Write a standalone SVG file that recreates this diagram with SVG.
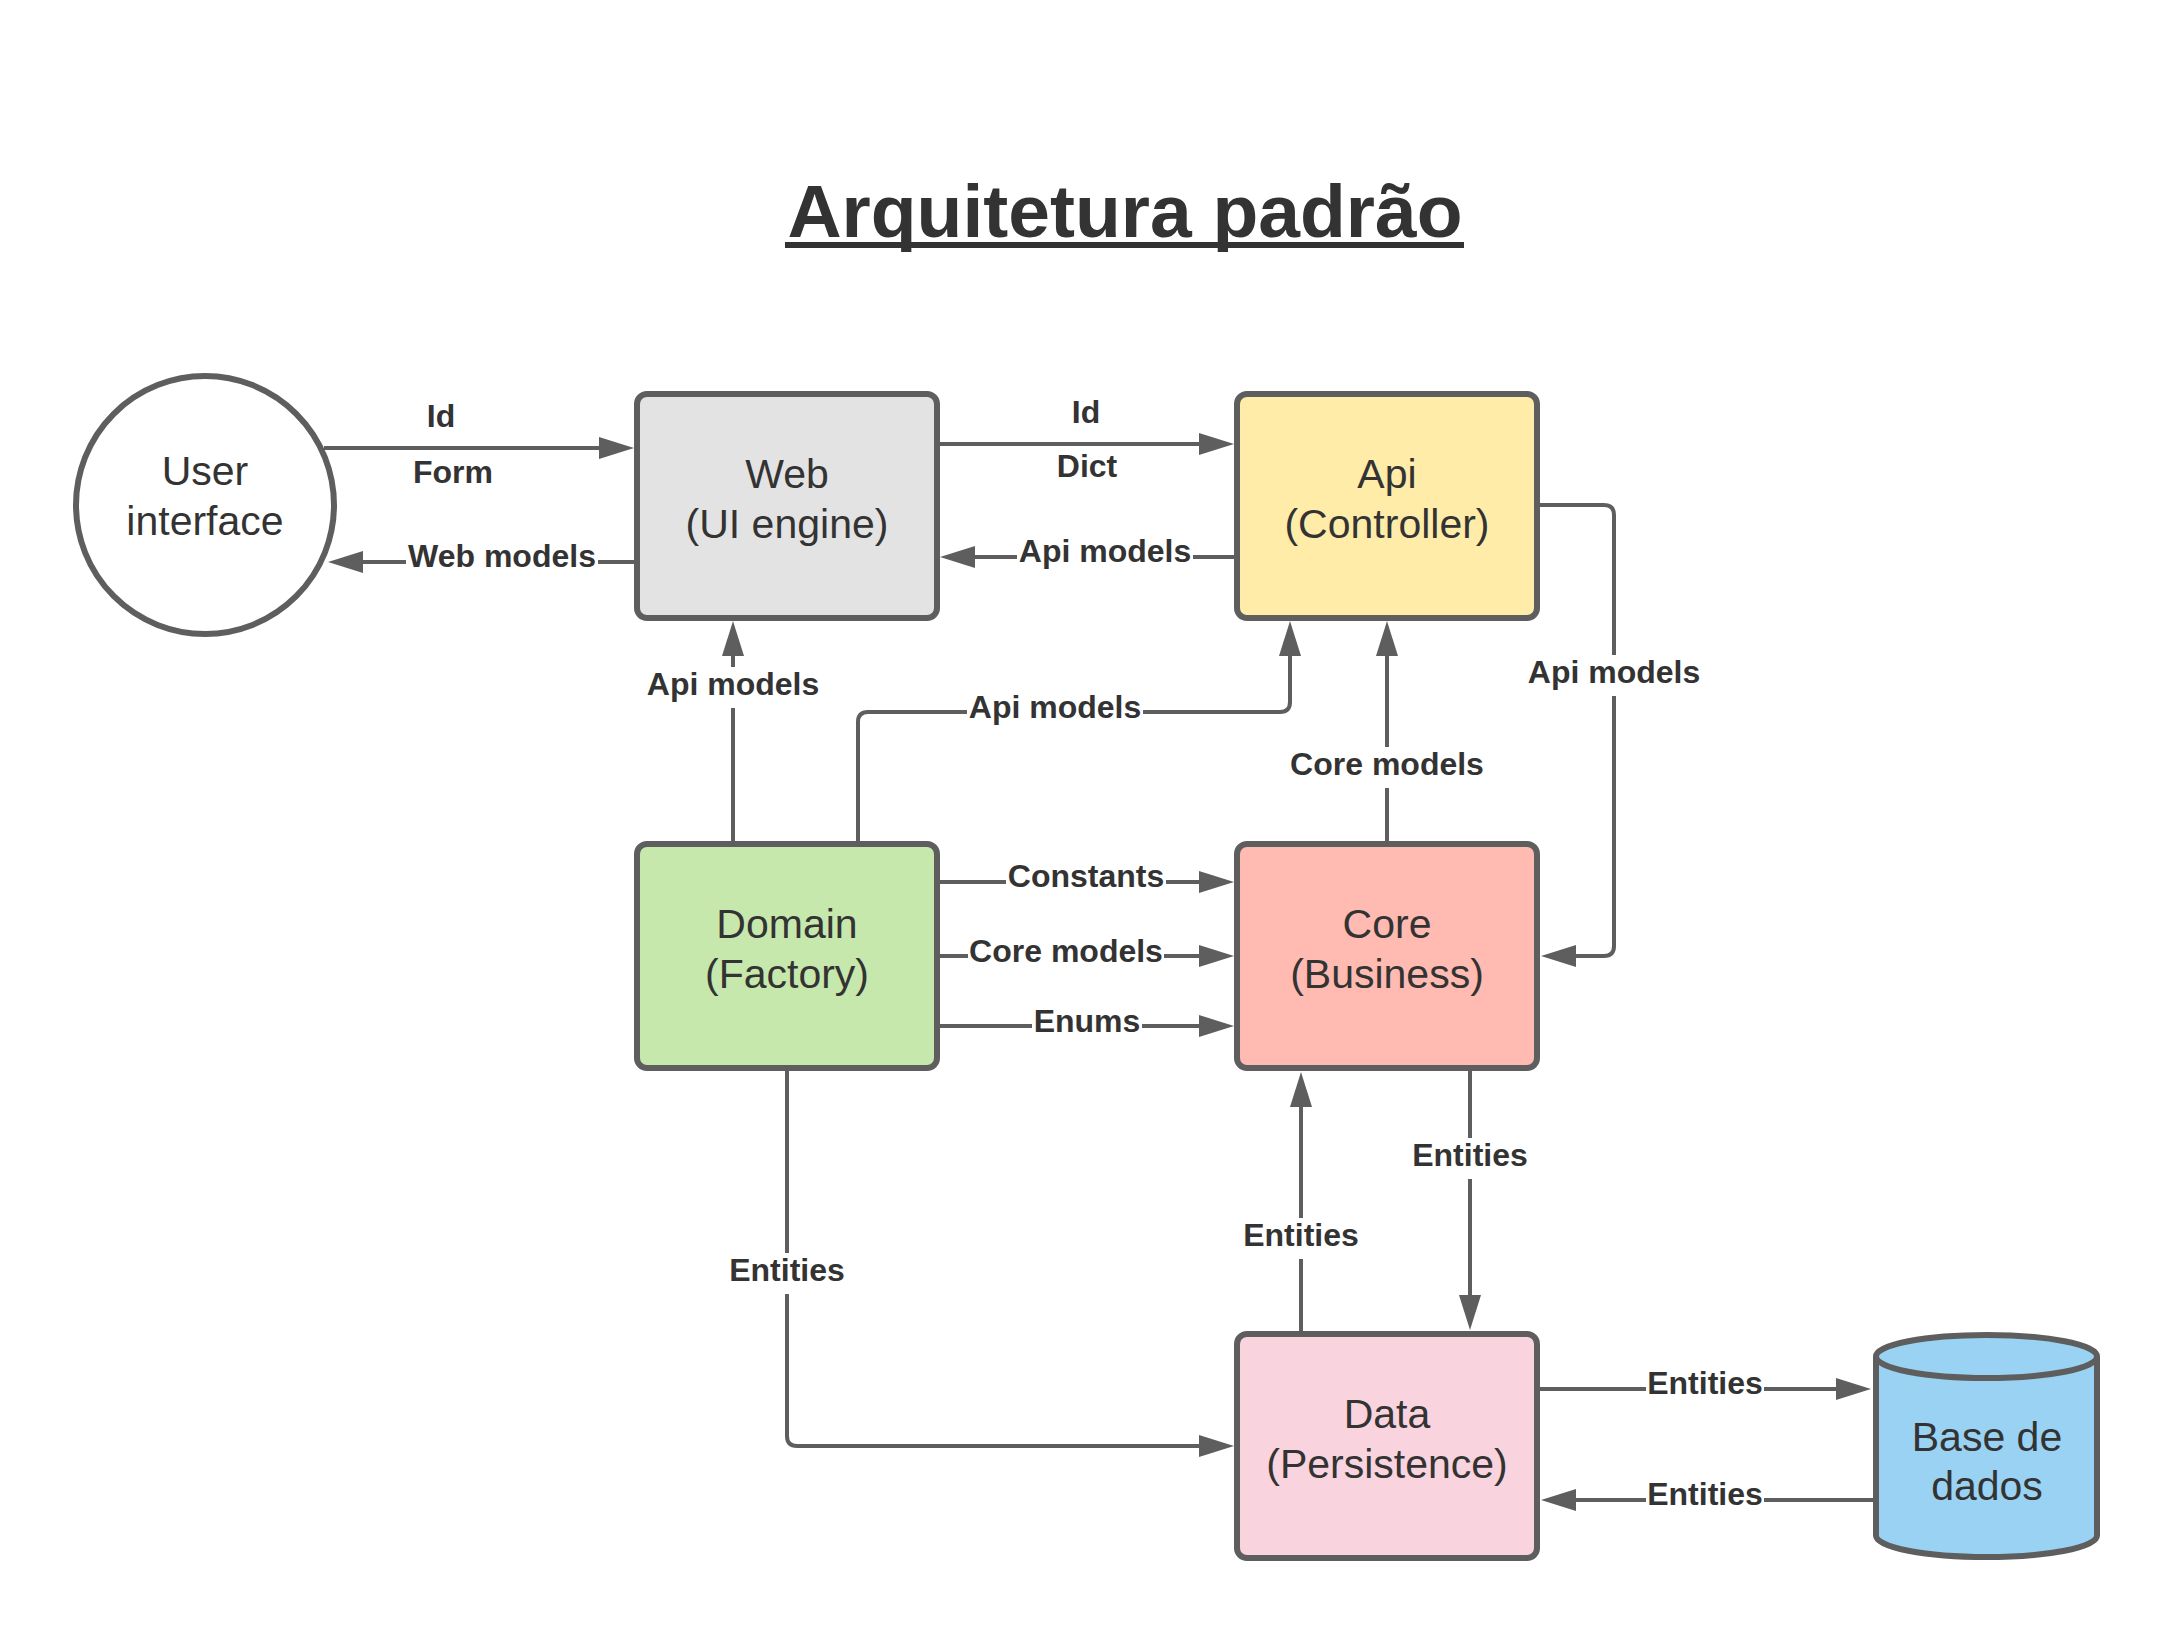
<svg xmlns="http://www.w3.org/2000/svg" width="2175" height="1635" viewBox="0 0 2175 1635">
<style>
text{font-family:"Liberation Sans",Arial,sans-serif;fill:#333333}
.title{font-size:75px;font-weight:bold}
.node{font-size:41px;text-anchor:middle}
.lbl{font-size:32px;font-weight:bold;text-anchor:middle}
.shape{stroke:#5e5e5e;stroke-width:6}
.conn path{fill:none;stroke:#5e5e5e;stroke-width:4;marker-end:url(#arr)}
.bg{fill:#ffffff}
</style>
<defs>
<marker id="arr" markerUnits="userSpaceOnUse" markerWidth="36" markerHeight="24" refX="0" refY="11" orient="auto" overflow="visible">
<path d="M0,0 L35,11 L0,22 Z" fill="#5e5e5e"/>
</marker>
</defs>
<rect width="2175" height="1635" fill="#ffffff"/>
<g id="title">
<text class="title" x="1125" y="237" text-anchor="middle">Arquitetura padrão</text>
<rect x="785" y="242" width="679" height="6" fill="#333333"/>
</g>

<g id="connectors" class="conn">
<path d="M324 448 H599"/>
<path d="M637 562 H363"/>
<path d="M937 444 H1199"/>
<path d="M1237 557 H975"/>
<path d="M1537 505 H1604 Q1614 505 1614 515 V946 Q1614 956 1604 956 H1576"/>
<path d="M733 844 V656"/>
<path d="M858 844 V722 Q858 712 868 712 H1280 Q1290 712 1290 702 V656"/>
<path d="M1387 844 V656"/>
<path d="M937 882 H1199"/>
<path d="M937 956 H1199"/>
<path d="M937 1026 H1199"/>
<path d="M787 1068 V1436 Q787 1446 797 1446 H1199"/>
<path d="M1301 1334 V1107"/>
<path d="M1470 1068 V1295"/>
<path d="M1537 1389 H1836"/>
<path d="M1874 1500 H1576"/>
</g>

<g id="connector-labels">
<text class="lbl" x="441" y="427">Id</text>
<text class="lbl" x="453" y="483">Form</text>
<rect class="bg" x="406" y="539" width="192" height="41"/>
<text class="lbl" x="502" y="567">Web models</text>
<text class="lbl" x="1086" y="423">Id</text>
<text class="lbl" x="1087" y="477">Dict</text>
<rect class="bg" x="1017" y="534" width="176" height="41"/>
<text class="lbl" x="1105" y="562">Api models</text>
<rect class="bg" x="1526" y="655" width="176" height="41"/>
<text class="lbl" x="1614" y="683">Api models</text>
<rect class="bg" x="645" y="667" width="176" height="41"/>
<text class="lbl" x="733" y="695">Api models</text>
<rect class="bg" x="967" y="690" width="176" height="41"/>
<text class="lbl" x="1055" y="718">Api models</text>
<rect class="bg" x="1289" y="747" width="196" height="41"/>
<text class="lbl" x="1387" y="775">Core models</text>
<rect class="bg" x="1006" y="859" width="160" height="41"/>
<text class="lbl" x="1086" y="887">Constants</text>
<rect class="bg" x="968" y="934" width="196" height="41"/>
<text class="lbl" x="1066" y="962">Core models</text>
<rect class="bg" x="1032" y="1004" width="110" height="41"/>
<text class="lbl" x="1087" y="1032">Enums</text>
<rect class="bg" x="728" y="1253" width="118" height="41"/>
<text class="lbl" x="787" y="1281">Entities</text>
<rect class="bg" x="1242" y="1218" width="118" height="41"/>
<text class="lbl" x="1301" y="1246">Entities</text>
<rect class="bg" x="1411" y="1138" width="118" height="41"/>
<text class="lbl" x="1470" y="1166">Entities</text>
<rect class="bg" x="1646" y="1366" width="118" height="41"/>
<text class="lbl" x="1705" y="1394">Entities</text>
<rect class="bg" x="1646" y="1477" width="118" height="41"/>
<text class="lbl" x="1705" y="1505">Entities</text>
</g>

<g id="user-interface">
<circle class="shape" cx="205" cy="505" r="129" fill="#ffffff"/>
<text class="node" x="205" y="485">User</text>
<text class="node" x="205" y="535">interface</text>
</g>
<g id="web">
<rect class="shape" x="637" y="394" width="300" height="224" rx="10" fill="#e3e3e3"/>
<text class="node" x="787" y="488">Web</text>
<text class="node" x="787" y="538">(UI engine)</text>
</g>
<g id="api">
<rect class="shape" x="1237" y="394" width="300" height="224" rx="10" fill="#ffeca9"/>
<text class="node" x="1387" y="488">Api</text>
<text class="node" x="1387" y="538">(Controller)</text>
</g>
<g id="domain">
<rect class="shape" x="637" y="844" width="300" height="224" rx="10" fill="#c7e8ac"/>
<text class="node" x="787" y="938">Domain</text>
<text class="node" x="787" y="988">(Factory)</text>
</g>
<g id="core">
<rect class="shape" x="1237" y="844" width="300" height="224" rx="10" fill="#ffbbb1"/>
<text class="node" x="1387" y="938">Core</text>
<text class="node" x="1387" y="988">(Business)</text>
</g>
<g id="data">
<rect class="shape" x="1237" y="1334" width="300" height="224" rx="10" fill="#f9d3de"/>
<text class="node" x="1387" y="1428">Data</text>
<text class="node" x="1387" y="1478">(Persistence)</text>
</g>
<g id="base-de-dados">
<path class="shape" d="M1876 1356.5 V1535.5 A110.5 21.5 0 0 0 2097 1535.5 V1356.5" fill="#99d2f2"/>
<ellipse class="shape" cx="1986.5" cy="1356.5" rx="110.5" ry="21.5" fill="#99d2f2"/>
<text class="node" x="1987" y="1451">Base de</text>
<text class="node" x="1987" y="1500">dados</text>
</g>
</svg>
